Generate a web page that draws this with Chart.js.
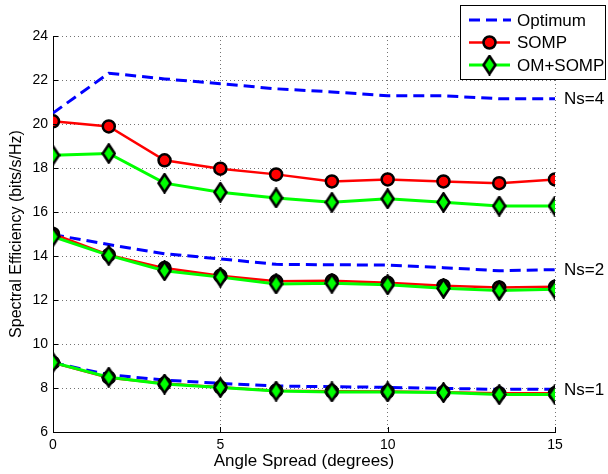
<!DOCTYPE html>
<html>
<head>
<meta charset="utf-8">
<script src="https://cdn.jsdelivr.net/npm/chart.js@4.4.0/dist/chart.umd.min.js"></script>
<style>
html, body { margin: 0; padding: 0; background: #fff; }
</style>
</head>
<body>
<canvas id="chart" width="608" height="474"></canvas>
<script>
// angle spread (degrees) and spectral efficiency values
const angleSpread = [0, 1.667, 3.333, 5, 6.667, 8.333, 10, 11.667, 13.333, 15];

const optimumNs4 = [20.5, 22.31, 22.05, 21.83, 21.6, 21.46, 21.28, 21.28, 21.15, 21.15];
const sompNs4    = [20.12, 19.89, 18.35, 17.97, 17.71, 17.39, 17.48, 17.39, 17.31, 17.48];
const omsompNs4  = [18.58, 18.66, 17.31, 16.9, 16.64, 16.44, 16.6, 16.44, 16.27, 16.27];

const optimumNs2 = [14.97, 14.52, 14.1, 13.87, 13.62, 13.6, 13.59, 13.47, 13.33, 13.38];
const sompNs2    = [15.0, 14.05, 13.45, 13.1, 12.85, 12.87, 12.78, 12.65, 12.57, 12.6];
const omsompNs2  = [14.88, 14.03, 13.33, 13.04, 12.73, 12.76, 12.69, 12.53, 12.43, 12.49];

const optimumNs1 = [9.15, 8.6, 8.36, 8.21, 8.09, 8.06, 8.03, 7.98, 7.94, 7.94];
const sompNs1    = [9.15, 8.47, 8.2, 8.03, 7.88, 7.85, 7.84, 7.81, 7.76, 7.76];
const omsompNs1  = [9.16, 8.49, 8.18, 8.02, 7.86, 7.82, 7.82, 7.79, 7.7, 7.7];

const xTicks = [0, 5, 10, 15];
const yTicks = [6, 8, 10, 12, 14, 16, 18, 20, 22, 24];
const nsLabels = ['Ns=4', 'Ns=2', 'Ns=1'];
const legendNames = ['Optimum', 'SOMP', 'OM+SOMP'];

const FONT = "'Liberation Sans', Arial, Helvetica, sans-serif";

// tall green diamond marker
function makeDiamond() {
    const c = document.createElement('canvas');
    c.width = 15; c.height = 21;
    const g = c.getContext('2d');
    g.beginPath();
    g.moveTo(7.5, 1.5);
    g.lineTo(13.5, 10.5);
    g.lineTo(7.5, 19.5);
    g.lineTo(1.5, 10.5);
    g.closePath();
    g.fillStyle = '#00ff00';
    g.fill();
    g.lineWidth = 2.6;
    g.strokeStyle = '#000';
    g.stroke();
    return c;
}
const diamond = makeDiamond();

function pts(ys) {
    return angleSpread.map((x, i) => ({ x: x, y: ys[i] }));
}

function optimumSet(ys) {
    return {
        label: 'Optimum', data: pts(ys), order: 3,
        borderColor: '#0000ff', borderWidth: 3, borderDash: [11, 6],
        pointRadius: 0, fill: false, tension: 0
    };
}
function sompSet(ys) {
    return {
        label: 'SOMP', data: pts(ys), order: 2,
        borderColor: '#ff0000', borderWidth: 2.5,
        pointStyle: 'circle', pointRadius: 6, pointBorderWidth: 2.5,
        pointBackgroundColor: '#ff0000', pointBorderColor: '#000',
        fill: false, tension: 0
    };
}
function omsompSet(ys) {
    return {
        label: 'OM+SOMP', data: pts(ys), order: 1,
        borderColor: '#00ff00', borderWidth: 3,
        pointStyle: diamond, pointRadius: 7,
        fill: false, tension: 0
    };
}

const groups = [
    [optimumNs4, sompNs4, omsompNs4],
    [optimumNs2, sompNs2, omsompNs2],
    [optimumNs1, sompNs1, omsompNs1]
];

const datasets = [];
groups.forEach(g => {
    datasets.push(optimumSet(g[0]));
    datasets.push(sompSet(g[1]));
    datasets.push(omsompSet(g[2]));
});

// MATLAB style inward tick marks
const innerTicks = {
    id: 'innerTicks',
    afterDraw(chart) {
        const ctx = chart.ctx;
        const { x, y } = chart.scales;
        const a = chart.chartArea;
        ctx.save();
        ctx.strokeStyle = '#000';
        ctx.lineWidth = 1;
        ctx.beginPath();
        xTicks.forEach(v => {
            const px = Math.round(x.getPixelForValue(v)) + 0.5;
            ctx.moveTo(px, a.bottom);
            ctx.lineTo(px, a.bottom - 5);
        });
        yTicks.forEach(v => {
            const py = Math.round(y.getPixelForValue(v)) + 0.5;
            ctx.moveTo(a.left, py);
            ctx.lineTo(a.left + 5, py);
        });
        ctx.stroke();
        ctx.restore();
    }
};

// Ns labels at the right end of each optimum curve
const nsText = {
    id: 'nsText',
    afterDraw(chart) {
        const ctx = chart.ctx;
        const { x, y } = chart.scales;
        ctx.save();
        ctx.font = '17px ' + FONT;
        ctx.fillStyle = '#000';
        ctx.textAlign = 'left';
        ctx.textBaseline = 'middle';
        groups.forEach((g, i) => {
            const last = g[0].length - 1;
            ctx.fillText(nsLabels[i], x.getPixelForValue(angleSpread[last]) + 9, y.getPixelForValue(g[0][last]) + 1);
        });
        ctx.restore();
    }
};

// boxed legend in the top right corner
const boxLegend = {
    id: 'boxLegend',
    afterDraw(chart) {
        const ctx = chart.ctx;
        const bx = 460.5, by = 5.5, bw = 145, bh = 74;
        ctx.save();
        ctx.fillStyle = '#fff';
        ctx.fillRect(bx, by, bw, bh);
        ctx.strokeStyle = '#000';
        ctx.lineWidth = 1;
        ctx.strokeRect(bx, by, bw, bh);
        const samples = [datasets[0], datasets[1], datasets[2]];
        samples.forEach((ds, i) => {
            const ry = 20 + i * 22.5;
            ctx.beginPath();
            ctx.strokeStyle = ds.borderColor;
            ctx.lineWidth = ds.borderWidth;
            ctx.setLineDash(ds.borderDash || []);
            if (ds.borderDash) { ctx.moveTo(469, ry); ctx.lineTo(511, ry); }
            else { ctx.moveTo(469, ry); ctx.lineTo(510, ry); }
            ctx.stroke();
            ctx.setLineDash([]);
            if (ds.pointStyle === 'circle') {
                ctx.beginPath();
                ctx.arc(489.5, ry, ds.pointRadius, 0, Math.PI * 2);
                ctx.fillStyle = ds.pointBackgroundColor;
                ctx.fill();
                ctx.lineWidth = ds.pointBorderWidth;
                ctx.strokeStyle = ds.pointBorderColor;
                ctx.stroke();
            } else if (ds.pointStyle === diamond) {
                ctx.drawImage(diamond, 489.5 - diamond.width / 2, ry - diamond.height / 2);
            }
            ctx.font = '17px ' + FONT;
            ctx.fillStyle = '#000';
            ctx.textAlign = 'left';
            ctx.textBaseline = 'middle';
            ctx.fillText(legendNames[i], 517, ry + 1);
        });
        ctx.restore();
    }
};

new Chart(document.getElementById('chart'), {
    type: 'line',
    data: { datasets: datasets },
    options: {
        responsive: false,
        animation: false,
        devicePixelRatio: 1,
        layout: { padding: { top: 36, right: 53, left: 0, bottom: 0 } },
        plugins: { legend: { display: false }, tooltip: { enabled: false } },
        scales: {
            x: {
                type: 'linear', min: 0, max: 15,
                afterBuildTicks: s => { s.ticks = xTicks.map(v => ({ value: v })); },
                afterFit: s => { s.height = 42; },
                ticks: { color: '#000', font: { family: FONT, size: 14 }, padding: 5, maxRotation: 0 },
                grid: { color: 'rgba(0,0,0,0.55)', lineWidth: 1, drawTicks: false },
                border: { display: true, color: '#000', width: 1, dash: [1, 3] },
                title: { display: true, text: 'Angle Spread (degrees)', color: '#000',
                         font: { family: FONT, size: 17, lineHeight: 1.2 }, padding: { top: 0, bottom: 2 } }
            },
            y: {
                type: 'linear', min: 6, max: 24,
                afterBuildTicks: s => { s.ticks = yTicks.map(v => ({ value: v })); },
                afterFit: s => { s.width = 53; },
                ticks: { color: '#000', font: { family: FONT, size: 14 }, padding: 5 },
                grid: { color: 'rgba(0,0,0,0.55)', lineWidth: 1, drawTicks: false },
                border: { display: true, color: '#000', width: 1, dash: [1, 3] },
                title: { display: true, text: 'Spectral Efficiency (bits/s/Hz)', color: '#000',
                         font: { family: FONT, size: 16, lineHeight: 1.2 }, padding: { top: 7, bottom: 0 } }
            }
        }
    },
    plugins: [innerTicks, nsText, boxLegend]
});
</script>
</body>
</html>
